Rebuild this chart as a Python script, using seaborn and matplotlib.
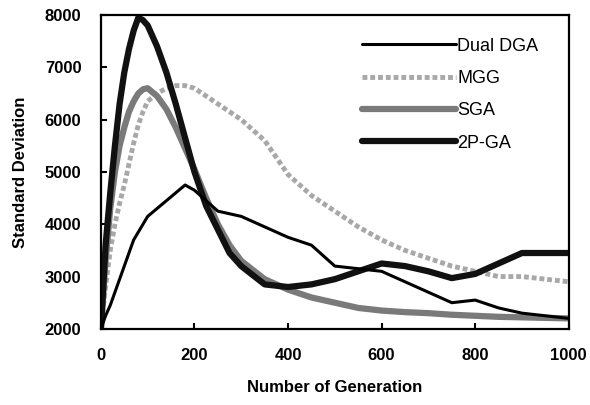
import matplotlib
matplotlib.use("Agg")
import matplotlib.pyplot as plt
import seaborn as sns

generation = [0, 10, 20, 30, 40, 50, 60, 70, 80, 90, 100, 120, 140, 160, 180, 200,
              225, 250, 275, 300, 350, 400, 450, 500, 550, 600, 650, 700, 750, 800,
              850, 900, 950, 1000]

dual_dga = [2000, 2250, 2450, 2700, 2950, 3200, 3450, 3700, 3850, 4000, 4150, 4300,
            4450, 4600, 4750, 4650, 4450, 4250, 4200, 4150, 3950, 3750, 3600, 3200,
            3150, 3100, 2900, 2700, 2500, 2550, 2400, 2300, 2250, 2200]
mgg = [2000, 2800, 3500, 4000, 4400, 4750, 5150, 5550, 5900, 6150, 6350, 6500, 6600,
       6650, 6650, 6600, 6450, 6300, 6150, 6000, 5600, 4950, 4550, 4250, 3950, 3700,
       3500, 3350, 3200, 3100, 3000, 3000, 2950, 2900]
sga = [2000, 3300, 4300, 5000, 5500, 5850, 6150, 6350, 6500, 6580, 6600, 6450, 6200,
       5850, 5450, 5050, 4500, 4000, 3600, 3300, 2950, 2750, 2600, 2500, 2400, 2350,
       2320, 2300, 2270, 2250, 2230, 2220, 2210, 2200]
p2_ga = [2000, 3600, 4600, 5500, 6300, 6900, 7350, 7700, 7950, 7900, 7800, 7400, 6900,
         6300, 5650, 5000, 4350, 3900, 3450, 3200, 2850, 2800, 2850, 2950, 3100, 3250,
         3200, 3100, 2970, 3050, 3250, 3450, 3450, 3450]

x_ticks = [0, 200, 400, 600, 800, 1000]
y_ticks = [2000, 3000, 4000, 5000, 6000, 7000, 8000]

sns.set_style("ticks")
plt.rcParams['font.family'] = ['Liberation Sans', 'DejaVu Sans']
plt.rcParams['text.color'] = 'black'
plt.rcParams['axes.labelcolor'] = 'black'
plt.rcParams['xtick.color'] = 'black'
plt.rcParams['ytick.color'] = 'black'

fig = plt.figure(figsize=(5.9, 4.05), dpi=100)
ax = fig.add_axes([0.171, 0.188, 0.793, 0.775])

sns.lineplot(x=generation, y=mgg, ax=ax, color="#a8a8a8", lw=3.5, ls=(0, (1, 0.6)), label="MGG")
sns.lineplot(x=generation, y=sga, ax=ax, color="#7a7a7a", lw=4.5, label="SGA")
sns.lineplot(x=generation, y=p2_ga, ax=ax, color="#111111", lw=4.5, label="2P-GA")
sns.lineplot(x=generation, y=dual_dga, ax=ax, color="black", lw=2.2, label="Dual DGA")

ax.set_xlim(0, 1000)
ax.set_ylim(2000, 8000)
ax.set_xticks(x_ticks)
ax.set_yticks(y_ticks)
ax.tick_params(direction="in", length=4, width=1.5, pad=14, labelsize=12)
ax.tick_params(axis="y", pad=14)
for t in ax.get_xticklabels() + ax.get_yticklabels():
    t.set_fontweight("bold")
for s in ax.spines.values():
    s.set_visible(True)
    s.set_linewidth(1.6)
    s.set_color("black")

ax.set_xlabel("Number of Generation", fontsize=12, fontweight="bold", labelpad=12)
ax.set_ylabel("Standard Deviation", fontsize=12, fontweight="bold", labelpad=12)

handles, labels = ax.get_legend_handles_labels()
order = [labels.index(n) for n in ["Dual DGA", "MGG", "SGA", "2P-GA"]]
ax.legend([handles[i] for i in order], [labels[i] for i in order], loc="upper right",
          frameon=False, fontsize=13, handlelength=5.2, handletextpad=0.1,
          labelspacing=0.85, bbox_to_anchor=(0.97, 0.98))

fig.savefig("out.png", dpi=100)
